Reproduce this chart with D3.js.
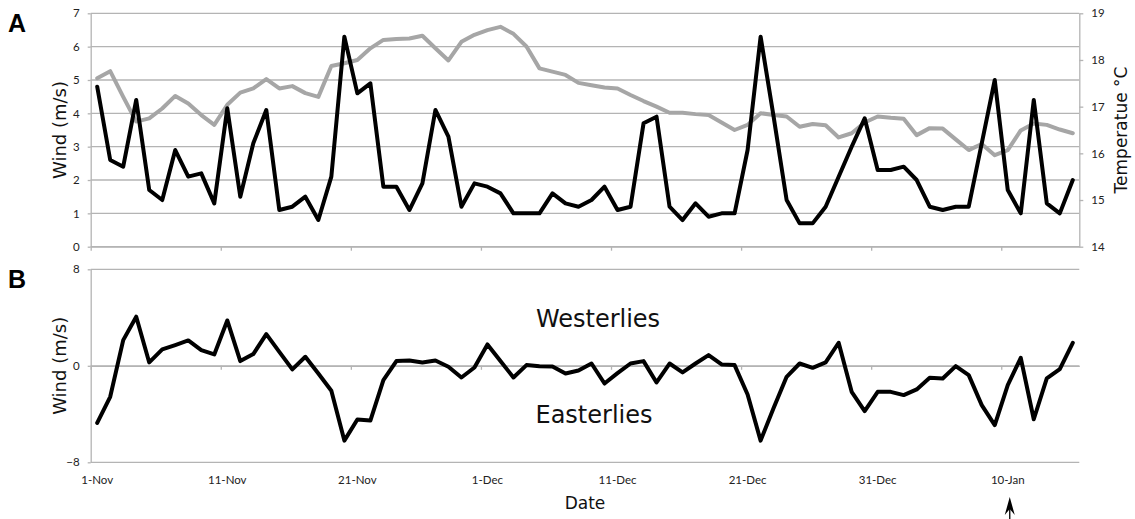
<!DOCTYPE html>
<html>
<head>
<meta charset="utf-8">
<script src="https://cdn.jsdelivr.net/npm/d3@7"></script>
<style>
  html, body { margin: 0; padding: 0; background: #fff; }
  svg { display: block; }
  .tick text { font-family: Lato, "Liberation Sans", sans-serif; font-size: 11.5px; fill: #222; }
  .title { font-family: "DejaVu Sans", sans-serif; fill: #111; }
  .panel { font-family: "Liberation Sans", Arial, sans-serif; font-weight: bold; font-size: 25px; fill: #000; }
</style>
</head>
<body>
<svg id="chart" width="1135" height="519"></svg>
<script>
// Daily records, 1 November to 15 January
const dates = d3.timeDay.range(new Date(2012, 10, 1), new Date(2013, 0, 16))
  .map(d3.timeFormat("%-d-%b"));

// Daily mean wind speed (m/s)
const windSpeed = [
  4.8, 2.6, 2.4, 4.4, 1.7, 1.4, 2.9, 2.1, 2.2, 1.3,
  4.15, 1.5, 3.1, 4.1, 1.1, 1.2, 1.5, 0.8, 2.1, 6.3,
  4.6, 4.9, 1.8, 1.8, 1.1, 1.9, 4.1, 3.3, 1.2, 1.9,
  1.8, 1.6, 1.0, 1.0, 1.0, 1.6, 1.3, 1.2, 1.4, 1.8,
  1.1, 1.2, 3.7, 3.9, 1.2, 0.8, 1.3, 0.9, 1.0, 1.0,
  2.9, 6.3, 3.9, 1.4, 0.7, 0.7, 1.2, 2.1, 3.0, 3.85,
  2.3, 2.3, 2.4, 2.0, 1.2, 1.1, 1.2, 1.2, 3.1, 5.0,
  1.7, 1.0, 4.4, 1.3, 1.0, 2.0
];

// Daily mean air temperature (°C)
const temperature = [
  17.61, 17.76, 17.21, 16.68, 16.75, 16.96, 17.23, 17.07, 16.82, 16.61,
  17.04, 17.30, 17.39, 17.59, 17.39, 17.44, 17.29, 17.21, 17.87, 17.93,
  18.00, 18.25, 18.43, 18.45, 18.46, 18.52, 18.25, 17.99, 18.39, 18.54,
  18.64, 18.71, 18.56, 18.29, 17.82, 17.75, 17.68, 17.51, 17.46, 17.41,
  17.39, 17.25, 17.12, 17.00, 16.87, 16.87, 16.84, 16.82, 16.66, 16.50,
  16.61, 16.86, 16.82, 16.79, 16.57, 16.63, 16.60, 16.34, 16.43, 16.66,
  16.79, 16.76, 16.74, 16.39, 16.54, 16.53, 16.30, 16.07, 16.20, 15.96,
  16.07, 16.49, 16.64, 16.61, 16.51, 16.43
];

// Zonal wind component (m/s): positive = westerly, negative = easterly
const zonalWind = [
  -4.73, -2.57, 2.13, 4.07, 0.28, 1.36, 1.72, 2.10, 1.30, 0.94,
  3.76, 0.39, 0.97, 2.63, 1.16, -0.30, 0.75, -0.64, -2.07, -6.20,
  -4.45, -4.54, -1.19, 0.39, 0.44, 0.28, 0.44, -0.08, -0.97, -0.14,
  1.77, 0.39, -0.97, 0.06, -0.03, -0.06, -0.64, -0.39, 0.19, -1.47,
  -0.61, 0.19, 0.39, -1.38, 0.19, -0.55, 0.19, 0.89, 0.11, 0.06,
  -2.38, -6.20, -3.50, -0.91, 0.19, -0.17, 0.28, 1.91, -2.16, -3.76,
  -2.16, -2.16, -2.43, -1.96, -1.00, -1.05, -0.03, -0.77, -3.26, -4.92,
  -1.60, 0.66, -4.43, -1.05, -0.28, 1.91
];

const windTicks = [0, 1, 2, 3, 4, 5, 6, 7];
const tempTicks = [14, 15, 16, 17, 18, 19];
const zonalTicks = [-8, 0, 8];
const dateTickLabels = ["1-Nov", "11-Nov", "21-Nov", "1-Dec", "11-Dec", "21-Dec", "31-Dec", "10-Jan"];
const markedDate = "10-Jan";

const svg = d3.select("#chart");
const gridColor = "#b4b4b4";
const intFmt = d3.format("d");

const left = 90.7, right = 1079.3;
const x = d3.scaleBand().domain(dates).range([left, right]).padding(0);
const cx = d => x(d) + x.bandwidth() / 2;
// category boundaries, used for the tick marks
const xEdge = d3.scaleLinear().domain([0, dates.length]).range([left, right]);
const edgeTicks = d3.range(0, dates.length, 10);

function styleAxis(g) {
  g.select(".domain").attr("stroke", gridColor).attr("stroke-width", 1.3);
  g.selectAll(".tick line").attr("stroke", gridColor).attr("stroke-width", 1.3);
}

// ---------- Panel A ----------
const yWind = d3.scaleLinear().domain([0, 7]).range([246.7, 13.3]);
const yTemp = d3.scaleLinear().domain([14, 19]).range([246.7, 13.3]);

const gA = svg.append("g");

gA.append("g").selectAll("line").data(windTicks).join("line")
  .attr("x1", left).attr("x2", right)
  .attr("y1", d => yWind(d)).attr("y2", d => yWind(d))
  .attr("stroke", gridColor).attr("stroke-width", 1.3);

gA.append("g").attr("transform", `translate(${left},0)`)
  .call(d3.axisLeft(yWind).tickValues(windTicks).tickFormat(intFmt)
    .tickSize(3).tickSizeOuter(0).tickPadding(8))
  .call(styleAxis);

gA.append("g").attr("transform", `translate(${right},0)`)
  .call(d3.axisRight(yTemp).tickValues(tempTicks).tickFormat(intFmt)
    .tickSize(4).tickSizeOuter(0).tickPadding(8))
  .call(styleAxis);

gA.append("g").attr("transform", `translate(0,${yWind(0)})`)
  .call(d3.axisBottom(xEdge).tickValues(edgeTicks).tickFormat("").tickSize(4).tickSizeOuter(0))
  .call(styleAxis);

const lineTemp = d3.line().x((d, i) => cx(dates[i])).y(d => yTemp(d));
const lineWind = d3.line().x((d, i) => cx(dates[i])).y(d => yWind(d));

gA.append("path").datum(temperature).attr("d", lineTemp)
  .attr("fill", "none").attr("stroke", "#a6a6a6").attr("stroke-width", 4)
  .attr("stroke-linejoin", "round").attr("stroke-linecap", "round");

gA.append("path").datum(windSpeed).attr("d", lineWind)
  .attr("fill", "none").attr("stroke", "#000").attr("stroke-width", 4)
  .attr("stroke-linejoin", "round").attr("stroke-linecap", "round");

gA.append("text").attr("class", "title")
  .attr("transform", `translate(66,${(yWind(0) + yWind(7)) / 2}) rotate(-90)`)
  .attr("text-anchor", "middle").attr("font-size", 18).text("Wind (m/s)");

gA.append("text").attr("class", "title")
  .attr("transform", `translate(1127,${(yTemp(14) + yTemp(19)) / 2}) rotate(-90)`)
  .attr("text-anchor", "middle").attr("font-size", 17).text("Temperatue °C");

gA.append("text").attr("class", "panel").attr("x", 8).attr("y", 32).text("A");

// ---------- Panel B ----------
const yZonal = d3.scaleLinear().domain([-8, 8]).range([462.3, 269.3]);
const gB = svg.append("g");

gB.append("g").selectAll("line").data(zonalTicks).join("line")
  .attr("x1", left).attr("x2", right)
  .attr("y1", d => yZonal(d)).attr("y2", d => yZonal(d))
  .attr("stroke", gridColor).attr("stroke-width", 1.3);

gB.append("g").attr("transform", `translate(${left},0)`)
  .call(d3.axisLeft(yZonal).tickValues(zonalTicks).tickFormat(intFmt)
    .tickSize(3).tickSizeOuter(0).tickPadding(8))
  .call(styleAxis);

gB.append("g").attr("transform", `translate(0,${yZonal(0)})`)
  .call(d3.axisBottom(xEdge).tickValues(edgeTicks).tickFormat("").tickSize(4).tickSizeOuter(0))
  .call(styleAxis);

// date labels sit below the panel, centred on their day
gB.append("g").attr("transform", `translate(0,${yZonal(-8)})`)
  .call(d3.axisBottom(x).tickValues(dateTickLabels).tickSize(0).tickPadding(14))
  .call(g => g.select(".domain").remove());

const lineZonal = d3.line().x((d, i) => cx(dates[i])).y(d => yZonal(d));
gB.append("path").datum(zonalWind).attr("d", lineZonal)
  .attr("fill", "none").attr("stroke", "#000").attr("stroke-width", 4)
  .attr("stroke-linejoin", "round").attr("stroke-linecap", "round");

gB.append("text").attr("class", "title")
  .attr("transform", `translate(66,${yZonal(0)}) rotate(-90)`)
  .attr("text-anchor", "middle").attr("font-size", 18).text("Wind (m/s)");

gB.append("text").attr("class", "title").attr("x", 598).attr("y", 326.7)
  .attr("text-anchor", "middle").attr("font-size", 24).text("Westerlies");
gB.append("text").attr("class", "title").attr("x", 594).attr("y", 423.3)
  .attr("text-anchor", "middle").attr("font-size", 24).text("Easterlies");

gB.append("text").attr("class", "title").attr("x", 585).attr("y", 509)
  .attr("text-anchor", "middle").attr("font-size", 17).text("Date");

gB.append("text").attr("class", "panel").attr("x", 8).attr("y", 288).text("B");

// arrow marking 10 January
const ax = cx(markedDate) + 2;
gB.append("line").attr("x1", ax).attr("x2", ax).attr("y1", 505).attr("y2", 519)
  .attr("stroke", "#000").attr("stroke-width", 1.3);
gB.append("path")
  .attr("d", `M${ax},497 L${ax - 5},515 L${ax},509 L${ax + 5},515 Z`)
  .attr("fill", "#000");
</script>
</body>
</html>
